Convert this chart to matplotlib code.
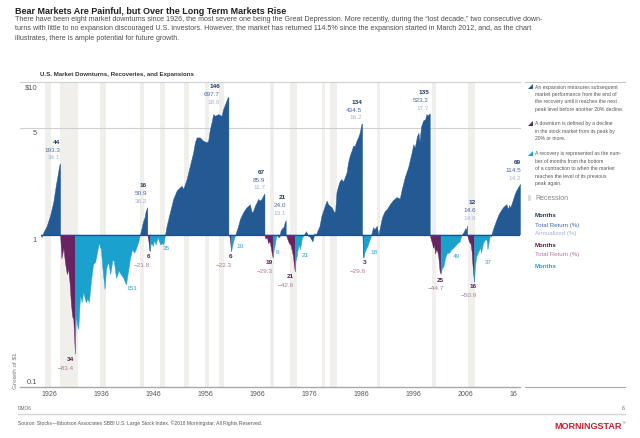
import matplotlib
matplotlib.use("Agg")
import matplotlib.pyplot as plt
from matplotlib import font_manager as fm
from matplotlib.patches import Polygon
from matplotlib.transforms import blended_transform_factory, offset_copy

# ---- data (year, growth of $1 within the phase) ----
exp_1926 = [(1926.0, 1.0), (1926.1, 0.96), (1926.44, 1.03), (1927.1, 1.14), (1927.73, 1.33),
            (1928.36, 1.63), (1928.88, 2.14), (1929.13, 2.38), (1929.5, 2.83), (1929.67, 2.933)]
down_1929 = [(1929.67, 1.0), (1929.83, 0.80), (1929.92, 0.70), (1930.0, 0.72), (1930.3, 0.82),
             (1930.6, 0.66), (1930.95, 0.55), (1931.2, 0.60), (1931.5, 0.48), (1931.75, 0.35),
             (1932.0, 0.29), (1932.2, 0.28), (1932.4, 0.20), (1932.5, 0.166)]
rec_1932 = [(1932.5, 0.166), (1932.7, 0.30), (1932.9, 0.26), (1933.15, 0.24), (1933.5, 0.40),
            (1933.8, 0.36), (1934.1, 0.42), (1934.6, 0.36), (1934.9, 0.38), (1935.2, 0.36),
            (1935.6, 0.50), (1936.0, 0.64), (1936.4, 0.66), (1936.8, 0.78), (1937.1, 0.88),
            (1937.5, 0.80), (1937.8, 0.60), (1938.2, 0.44), (1938.5, 0.60), (1938.9, 0.66),
            (1939.3, 0.55), (1939.7, 0.68), (1940.0, 0.67), (1940.4, 0.52), (1940.9, 0.58),
            (1941.3, 0.55), (1941.8, 0.52), (1942.3, 0.47), (1942.7, 0.57), (1943.1, 0.70),
            (1943.5, 0.80), (1943.9, 0.76), (1944.3, 0.82), (1944.7, 0.90), (1945.0, 1.0)]
exp_1945 = [(1945.0, 1.0), (1945.3, 1.10), (1945.6, 1.22), (1945.9, 1.30), (1946.1, 1.42),
            (1946.42, 1.509)]
down_1946 = [(1946.42, 1.0), (1946.6, 0.93), (1946.7, 0.86), (1946.8, 0.79), (1946.92, 0.782)]
rec_1946 = [(1946.92, 0.782), (1947.0, 0.85), (1947.2, 0.88), (1947.5, 0.84), (1947.7, 0.92),
            (1948.0, 0.86), (1948.4, 0.96), (1948.6, 0.92), (1948.9, 0.86), (1949.3, 0.88),
            (1949.5, 0.86), (1949.7, 0.95), (1949.83, 1.0)]
exp_1949 = [(1949.83, 1.0), (1950.13, 1.14), (1950.76, 1.40), (1951.39, 1.71), (1952.05, 1.94),
            (1952.68, 2.04), (1953.0, 2.09), (1953.31, 1.99), (1953.97, 2.31), (1954.6, 2.83),
            (1955.23, 3.46), (1955.56, 4.02), (1955.89, 4.33), (1956.52, 4.33), (1957.15, 4.12),
            (1957.8, 4.02), (1958.11, 4.12), (1958.44, 4.92), (1958.76, 5.44), (1959.07, 6.16),
            (1959.4, 6.0), (1960.03, 6.16), (1960.68, 6.0), (1960.99, 6.66), (1961.5, 7.37),
            (1961.83, 7.92), (1962.0, 7.977)]
down_1962 = [(1962.0, 1.0), (1962.2, 0.97), (1962.35, 0.88), (1962.5, 0.777)]
rec_1962 = [(1962.5, 0.777), (1962.7, 0.84), (1962.9, 0.90), (1963.1, 0.95), (1963.33, 1.0)]
exp_1963 = [(1963.33, 1.0), (1963.87, 1.14), (1964.2, 1.26), (1964.83, 1.40), (1965.48, 1.51),
            (1965.79, 1.54), (1966.12, 1.58), (1966.44, 1.40), (1966.75, 1.43), (1967.08, 1.54),
            (1967.4, 1.62), (1967.71, 1.71), (1968.03, 1.67), (1968.36, 1.71), (1968.67, 1.80),
            (1968.92, 1.859)]
down_1968 = [(1968.92, 1.0), (1969.1, 0.94), (1969.4, 0.96), (1969.6, 0.88), (1969.9, 0.90),
             (1970.1, 0.84), (1970.3, 0.76), (1970.5, 0.707)]
rec_1970 = [(1970.5, 0.707), (1970.7, 0.80), (1970.9, 0.86), (1971.1, 0.95), (1971.25, 1.0)]
exp_1971 = [(1971.25, 1.0), (1971.5, 0.97), (1971.8, 0.96), (1972.0, 1.06), (1972.3, 1.10),
            (1972.6, 1.12), (1972.8, 1.20), (1973.0, 1.24)]
down_1973 = [(1973.0, 1.0), (1973.3, 0.94), (1973.6, 0.88), (1973.9, 0.86), (1974.2, 0.78),
             (1974.4, 0.72), (1974.6, 0.62), (1974.75, 0.574)]
rec_1974 = [(1974.75, 0.574), (1974.9, 0.68), (1975.1, 0.72), (1975.3, 0.80), (1975.5, 0.86),
            (1975.7, 0.80), (1975.9, 0.86), (1976.1, 0.95), (1976.3, 0.97), (1976.5, 1.0)]
exp_1976 = [(1976.5, 1.0), (1976.9, 1.05), (1977.3, 0.98), (1977.6, 0.97), (1977.9, 0.93),
            (1978.15, 0.90), (1978.5, 1.02), (1978.8, 1.0), (1979.1, 1.06), (1979.5, 1.14),
            (1979.87, 1.33), (1980.19, 1.43), (1980.5, 1.54), (1980.84, 1.67), (1981.15, 1.58),
            (1981.47, 1.54), (1981.8, 1.51), (1982.3, 1.40), (1982.5, 1.42), (1982.75, 1.89),
            (1983.07, 2.09), (1983.4, 2.25), (1983.7, 2.31), (1984.0, 2.22), (1984.35, 2.37),
            (1984.7, 2.56), (1984.98, 2.97), (1985.3, 3.29), (1985.64, 3.54), (1985.94, 3.82),
            (1986.27, 3.82), (1986.6, 4.12), (1986.9, 4.33), (1987.23, 4.68), (1987.55, 5.31),
            (1987.67, 5.345)]
down_1987 = [(1987.67, 1.0), (1987.75, 0.97), (1987.83, 0.75), (1987.92, 0.704)]
rec_1987 = [(1987.92, 0.704), (1988.1, 0.76), (1988.4, 0.80), (1988.7, 0.84), (1988.9, 0.88),
            (1989.1, 0.92), (1989.3, 0.96), (1989.42, 1.0)]
exp_1989 = [(1989.42, 1.0), (1989.6, 1.06), (1989.8, 1.12), (1990.0, 1.08), (1990.5, 1.14),
            (1990.8, 0.99), (1991.1, 1.12), (1991.5, 1.30), (1992.0, 1.42), (1992.5, 1.48),
            (1993.0, 1.58), (1993.6, 1.68), (1994.3, 1.76), (1994.9, 1.72), (1995.3, 1.99),
            (1995.9, 2.40), (1996.5, 2.75), (1997.15, 3.40), (1997.5, 3.90), (1997.8, 3.72),
            (1998.2, 4.40), (1998.5, 4.65), (1998.7, 4.05), (1999.0, 5.10), (1999.4, 5.60),
            (1999.8, 5.70), (2000.0, 6.15), (2000.3, 6.05), (2000.67, 6.232)]
down_2000 = [(2000.67, 1.0), (2000.9, 0.92), (2001.1, 0.88), (2001.3, 0.82), (2001.5, 0.85),
             (2001.7, 0.75), (2001.9, 0.80), (2002.1, 0.78), (2002.3, 0.72), (2002.55, 0.58),
             (2002.75, 0.553)]
rec_2002 = [(2002.75, 0.553), (2003.0, 0.60), (2003.3, 0.62), (2003.6, 0.70), (2004.0, 0.76),
            (2004.4, 0.76), (2004.8, 0.80), (2005.2, 0.82), (2005.6, 0.85), (2006.0, 0.88),
            (2006.4, 0.90), (2006.6, 0.95), (2006.83, 1.0)]
exp_2006 = [(2006.83, 1.0), (2007.1, 1.03), (2007.3, 1.06), (2007.5, 1.10), (2007.7, 1.08),
            (2007.83, 1.146)]
down_2007 = [(2007.83, 1.0), (2008.0, 0.95), (2008.2, 0.90), (2008.5, 0.87), (2008.7, 0.78),
             (2008.85, 0.65), (2009.0, 0.56), (2009.17, 0.491)]
rec_2009 = [(2009.17, 0.491), (2009.35, 0.62), (2009.6, 0.72), (2009.9, 0.76), (2010.2, 0.80),
            (2010.3, 0.84), (2010.5, 0.76), (2010.9, 0.88), (2011.3, 0.93), (2011.6, 0.92),
            (2011.75, 0.80), (2012.0, 0.90), (2012.25, 1.0)]
exp_2012 = [(2012.25, 1.0), (2012.4, 0.97), (2012.8, 1.08), (2013.2, 1.18), (2013.5, 1.26),
            (2013.9, 1.36), (2014.1, 1.40), (2014.5, 1.47), (2014.8, 1.52), (2015.1, 1.55),
            (2015.4, 1.58), (2015.7, 1.46), (2015.9, 1.56), (2016.1, 1.50), (2016.4, 1.60),
            (2016.7, 1.72), (2017.0, 1.85), (2017.3, 1.95), (2017.6, 2.03), (2018.0, 2.145)]

expansions = [exp_1926, exp_1945, exp_1949, exp_1963, exp_1971, exp_1976, exp_1989, exp_2006, exp_2012]
downturns = [down_1929, down_1946, down_1962, down_1968, down_1973, down_1987, down_2000, down_2007]
recoveries = [rec_1932, rec_1946, rec_1962, rec_1970, rec_1974, rec_1987, rec_2002, rec_2009]

exp_months = ["44", "16", "146", "67", "21", "134", "135", "12", "69"]
exp_total = ["193.3", "50.9", "697.7", "85.9", "24.0", "434.5", "523.2", "14.6", "114.5"]
exp_annual = ["34.1", "36.2", "18.6", "11.7", "13.1", "16.2", "17.7", "14.6", "14.2"]
down_months = ["34", "6", "6", "19", "21", "3", "25", "16"]
down_total = ["\u221283.4", "\u221221.8", "\u221222.3", "\u221229.3", "\u221242.6",
              "\u221229.6", "\u221244.7", "\u221250.9"]
rec_months = ["151", "35", "10", "9", "21", "18", "49", "37"]

recessions = [(1926.75, 1927.83), (1929.58, 1933.17), (1937.33, 1938.42), (1945.08, 1945.75),
              (1948.83, 1949.75), (1953.5, 1954.33), (1957.58, 1958.25), (1960.25, 1961.08),
              (1969.92, 1970.83), (1973.83, 1975.17), (1980.0, 1980.5), (1981.5, 1982.83),
              (1990.5, 1991.17), (2001.17, 2001.83), (2007.92, 2009.42)]

ytick_vals = [10, 5, 1, 0.1]
ytick_labels = ["$10", "5", "1", "0.1"]
xtick_years = [1926, 1936, 1946, 1956, 1966, 1976, 1986, 1996, 2006, 2016]
xtick_labels = ["1926", "1936", "1946", "1956", "1966", "1976", "1986", "1996", "2006", "16"]

# ---- label layout (pixel positions in the 640x439 picture) ----
exp_lab_x = [60, 147, 220, 265, 286, 362, 429, 476, 521]
exp_lab_y = [142, 186, 87, 172, 198, 102, 92, 203, 162]
down_lab_x = [74, 150, 232, 273, 294, 366, 444, 477]
down_lab_y = [360, 257, 257, 263, 277, 263, 280, 287]
rec_lab_x = [126, 163, 236, 276, 302, 370, 453, 485]
rec_lab_y = [288, 249, 247, 253, 256, 253, 257, 263]

C_EXP = "#235a94"
C_DOWN = "#6a2362"
C_REC = "#1aa1cd"
C_RECESS = "#f1efec"
C_BASE = "#1f4f8a"
C_EXP_M, C_EXP_T, C_EXP_A = "#22396b", "#4a67a6", "#a3b3d4"
C_DOWN_M, C_DOWN_T = "#5a2050", "#a77c9f"
C_REC_M = "#2a9fd6"

names = {f.name for f in fm.fontManager.ttflist}
NARROW = "Liberation Sans Narrow" if "Liberation Sans Narrow" in names else "Liberation Sans"
plt.rcParams["font.family"] = [NARROW, "DejaVu Sans"]

W, H = 640, 439
fig = plt.figure(figsize=(W / 100, H / 100), dpi=100)
ax = fig.add_axes([41 / W, 1 - 388 / H, (520 - 41) / W, (388 - 83) / H])
ax.set_yscale("log")
ax.set_xlim(1926, 2018)
ax.set_ylim(0.1, 10)
for s in ax.spines.values():
    s.set_visible(False)
ax.set_xticks([])
ax.set_yticks([])
ax.minorticks_off()
ax.patch.set_alpha(0)


def ftext(x, y, s, **kw):
    kw.setdefault("va", "center")
    fig.text(x / W, 1 - y / H, s, **kw)


for a, b in recessions:
    ax.axvspan(a, b, color=C_RECESS, lw=0, zorder=0)

left = (20 - 41) / (520 - 41)
for v in (10, 5):
    ax.axhline(v, xmin=left, xmax=1, color="#d0d0d0", lw=0.8, clip_on=False, zorder=1)
ax.axhline(0.1, xmin=left, xmax=1, color="#a8a8a8", lw=1.0, clip_on=False, zorder=1)

for seg_list, col in ((expansions, C_EXP), (downturns, C_DOWN), (recoveries, C_REC)):
    for seg in seg_list:
        t = [p[0] for p in seg]
        v = [p[1] for p in seg]
        ax.fill_between(t, 1, v, color=col, lw=0.3, edgecolor=col, zorder=2)
ax.axhline(1, color=C_BASE, lw=0.9, zorder=3)

# axis labels
ytr = blended_transform_factory(ax.transAxes, ax.transData)
for v, s in zip(ytick_vals, ytick_labels):
    if v == 0.1:
        tr = offset_copy(ytr, fig=fig, x=0, y=2, units="dots")
        ax.text(-0.008, v, s, transform=tr, ha="right", va="bottom", fontsize=5.4, color="#555555")
    else:
        tr = offset_copy(ytr, fig=fig, x=0, y=-1.5, units="dots")
        ax.text(-0.008, v, s, transform=tr, ha="right", va="top", fontsize=5.4, color="#555555")
xtr = offset_copy(ax.transData, fig=fig, x=0, y=-3, units="dots")
for yr, s in zip(xtick_years, xtick_labels):
    ax.text(yr, 0.1, s, transform=xtr, ha="left", va="top", fontsize=5.0, color="#555555")

# value labels
for i in range(len(exp_months)):
    x, y = exp_lab_x[i], exp_lab_y[i]
    ftext(x, y, exp_months[i], ha="right", fontsize=4.6, color=C_EXP_M, weight="bold")
    ftext(x, y + 8, exp_total[i], ha="right", fontsize=4.6, color=C_EXP_T)
    ftext(x, y + 16, exp_annual[i], ha="right", fontsize=4.6, color=C_EXP_A)
for i in range(len(down_months)):
    x, y = down_lab_x[i], down_lab_y[i]
    ftext(x, y, down_months[i], ha="right", fontsize=4.6, color=C_DOWN_M, weight="bold")
    ftext(x, y + 8.5, down_total[i], ha="right", fontsize=4.6, color=C_DOWN_T)
for i in range(len(rec_months)):
    ftext(rec_lab_x[i], rec_lab_y[i], rec_months[i], ha="left", fontsize=4.6, color=C_REC_M)

# header
ftext(15, 11, "Bear Markets Are Painful, but Over the Long Term Markets Rise",
      fontsize=6.5, weight="bold", color="#231f20")
sub = ["There have been eight market downturns since 1926, the most severe one being the Great Depression. "
       "More recently, during the \u201clost decade,\u201d two consecutive down-",
       "turns with little to no expansion discouraged U.S. investors. However, the market has returned 114.5% "
       "since the expansion started in March 2012, and, as the chart",
       "illustrates, there is ample potential for future growth."]
for i, line in enumerate(sub):
    ftext(15, 19.5 + 9.5 * i, line, fontsize=5.1, color="#4d4d4d")
ftext(40, 75, "U.S. Market Downturns, Recoveries, and Expansions", fontsize=4.4, weight="bold",
      color="#333333")
ftext(15, 371, "Growth of $1", rotation=90, ha="center", fontsize=4.6, color="#777777")

# legend panel
for yy in (82.5, 388):
    fig.add_artist(plt.Line2D([525 / W, 625 / W], [1 - yy / H, 1 - yy / H],
                              color="#c8c8c8" if yy < 100 else "#a8a8a8", lw=0.8))
legend_blocks = [
    (C_EXP, 87, ["An expansion measures subsequent", "market performance from the end of",
                 "the recovery until it reaches the next", "peak level before another 20% decline."]),
    (C_DOWN, 124, ["A downturn is defined by a decline", "in the stock market from its peak by",
                   "20% or more."]),
    (C_REC, 154, ["A recovery is represented as the num-", "ber of months from the bottom",
                  "of a contraction to when the market", "reaches the level of its previous",
                  "peak again."]),
]
for col, y0, lines in legend_blocks:
    tri = [(528 / W, 1 - (y0 + 2.5) / H), (533 / W, 1 - (y0 + 2.5) / H), (533 / W, 1 - (y0 - 2.5) / H)]
    fig.add_artist(Polygon(tri, closed=True, color=col, lw=0))
    for j, line in enumerate(lines):
        ftext(535, y0 + 7.4 * j, line, fontsize=3.6, color="#555555")
fig.add_artist(plt.Rectangle((528 / W, 1 - 202 / H), 3 / W, 6 / H, color="#dddddd", lw=0))
ftext(535, 199, "Recession", fontsize=5.0, color="#888888")
key = [("Months", C_EXP_M, 216), ("Total Return (%)", C_EXP_T, 225), ("Annualized (%)", C_EXP_A, 234),
       ("Months", C_DOWN_M, 246), ("Total Return (%)", C_DOWN_T, 255), ("Months", C_REC_M, 267)]
for s, col, yy in key:
    ftext(535, yy, s, fontsize=4.4, color=col, weight="bold" if s == "Months" else "normal")

# footer
ftext(18, 409, "DMO6", fontsize=3.5, color="#666666")
ftext(625, 409, "6", ha="right", fontsize=3.8, color="#666666")
fig.add_artist(plt.Line2D([18 / W, 625 / W], [1 - 415 / H, 1 - 415 / H], color="#d4d4d4", lw=1.0))
ftext(18, 423, "Source: Stocks\u2014Ibbotson Associates SBBI U.S. Large Stock Index. "
      "\u00a92018 Morningstar. All Rights Reserved.", fontsize=3.6, color="#555555")
ftext(622, 427, "MORNINGSTAR", ha="right", fontsize=6.5, weight="bold", color="#c8202f")
ftext(623, 423, "\u00ae", ha="left", fontsize=2.5, color="#c8202f")

fig.savefig("out.png", dpi=100)
